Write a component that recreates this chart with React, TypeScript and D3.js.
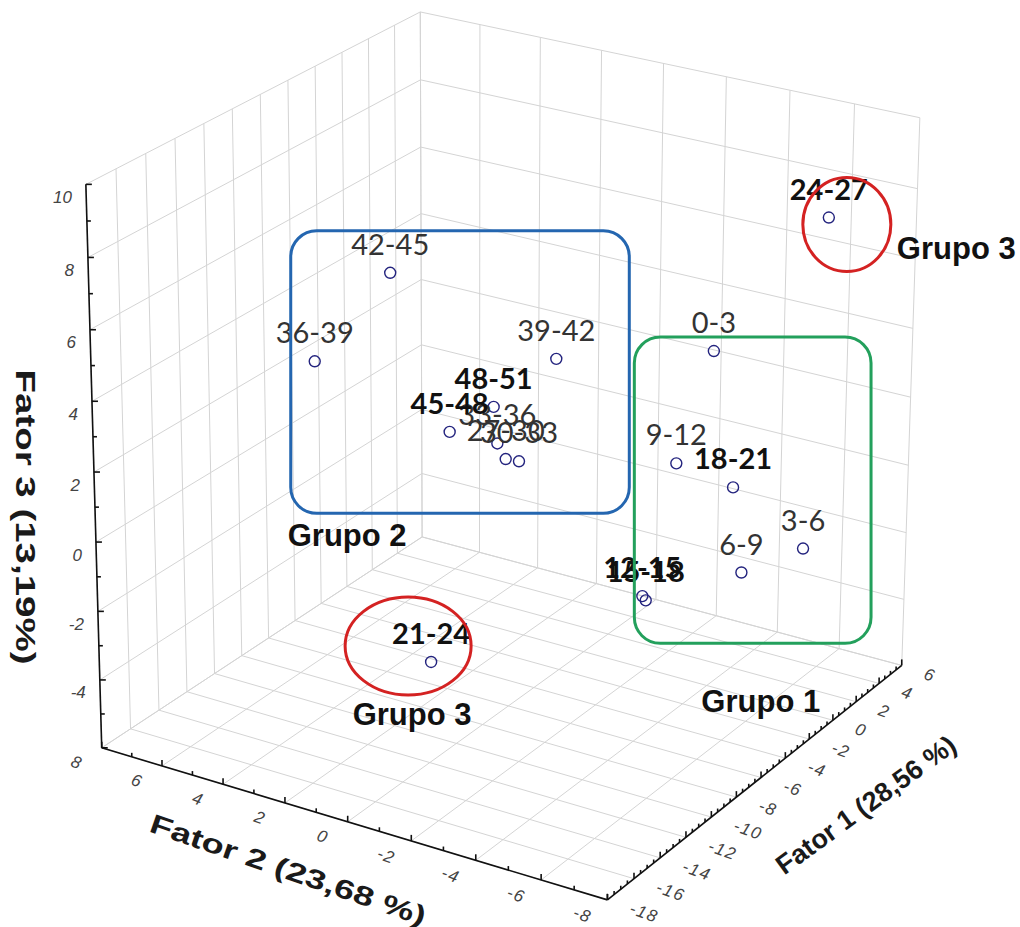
import { useMemo } from "react";
import * as d3 from "d3";

const W = 1020;
const H = 927;

// scores (Fator 1, Fator 2, Fator 3)
const labels = ["0-3", "3-6", "6-9", "9-12", "12-15", "15-18", "18-21", "21-24", "24-27", "27-30", "30-33", "33-36", "36-39", "39-42", "42-45", "45-48", "48-51"];
const fator1 = [4, 2, 0, 3, -2, -1, 1, -8, 2, -6, -5, -7, -8, -4, -9, -6, -7];
const fator2 = [-2.52, -6.21, -5.03, -1.76, -2.67, -2.39, -4.34, 1.67, -6.74, 0.11, 0.1, -0.04, 5.41, -0.66, 2.5, 1.91, 0.08];
const fator3 = [2.6, -1.88, -2.36, -0.66, -3.12, -3.58, -0.27, -4.57, 7.79, 1.25, 0.94, 1.98, 3.35, 3.83, 6.73, 1.62, 3.0];
const grupo = [1, 1, 1, 1, 1, 1, 1, 3, 3, 2, 2, 2, 2, 2, 2, 2, 2];
const boldLabels = ["12-15", "15-18", "18-21", "21-24", "24-27", "45-48", "48-51"];

const f1Ticks = d3.range(-18, 7, 2);
const f2Ticks = d3.range(8, -9, -2);
const f3Ticks = d3.range(-4, 11, 2);

// box corners in unit coords -> where they sit on screen
const corners: number[][] = [
  [0, 0, 0, 102, 748],
  [0, 1, 0, 607, 900],
  [1, 1, 0, 902, 665],
  [1, 0, 0, 422, 537],
  [0, 0, 1, 86, 184],
  [1, 0, 1, 420, 12],
  [1, 1, 1, 920, 118],
];

function fitCamera(pts: number[][]) {
  const rows: number[][] = [];
  const rhs: number[] = [];
  pts.forEach(([X, Y, Z, u, v]) => {
    rows.push([X, Y, Z, 1, 0, 0, 0, 0, -u * X, -u * Y, -u * Z]);
    rhs.push(u);
    rows.push([0, 0, 0, 0, X, Y, Z, 1, -v * X, -v * Y, -v * Z]);
    rhs.push(v);
  });
  const n = 11;
  const M = d3.range(n).map((i) =>
    d3.range(n + 1).map((j) =>
      j < n ? d3.sum(rows, (r) => r[i] * r[j]) : d3.sum(rows, (r, k) => r[i] * rhs[k])
    )
  );
  for (let c = 0; c < n; c++) {
    let piv = c;
    for (let r = c + 1; r < n; r++) if (Math.abs(M[r][c]) > Math.abs(M[piv][c])) piv = r;
    [M[c], M[piv]] = [M[piv], M[c]];
    for (let r = 0; r < n; r++) {
      if (r === c) continue;
      const f = M[r][c] / M[c][c];
      for (let k = c; k <= n; k++) M[r][k] -= f * M[c][k];
    }
  }
  return M.map((row, i) => row[n] / row[i]);
}

const sx = d3.scaleLinear().domain([-18, 6]).range([0, 1]);
const sy = d3.scaleLinear().domain([8, -8]).range([0, 1]);
const sz = d3.scaleLinear().domain([-6, 10]).range([0, 1]);

const grid = "#d4d4d4";
const tickFont = "'Liberation Sans', Arial, sans-serif";
const labelFont = "Lato, 'Open Sans', sans-serif";

export default function App() {
  const p = useMemo(() => fitCamera(corners), []);
  const proj = (f1: number, f2: number, f3: number): [number, number] => {
    const X = sx(f1), Y = sy(f2), Z = sz(f3);
    const w = p[8] * X + p[9] * Y + p[10] * Z + 1;
    return [(p[0] * X + p[1] * Y + p[2] * Z + p[3]) / w, (p[4] * X + p[5] * Y + p[6] * Z + p[7]) / w];
  };
  const line = (a: [number, number], b: [number, number]) => `M${a[0]},${a[1]}L${b[0]},${b[1]}`;

  const gridPaths: string[] = [];
  f1Ticks.forEach((v) => {
    gridPaths.push(line(proj(v, 8, -6), proj(v, -8, -6)));
    gridPaths.push(line(proj(v, 8, -6), proj(v, 8, 10)));
  });
  f2Ticks.forEach((v) => {
    gridPaths.push(line(proj(-18, v, -6), proj(6, v, -6)));
    gridPaths.push(line(proj(6, v, -6), proj(6, v, 10)));
  });
  d3.range(-6, 11, 2).forEach((v) => {
    gridPaths.push(line(proj(-18, 8, v), proj(6, 8, v)));
    gridPaths.push(line(proj(6, 8, v), proj(6, -8, v)));
  });

  const pts = labels.map((name, i) => {
    const [x, y] = proj(fator1[i], fator2[i], fator3[i]);
    return { name, x, y, g: grupo[i], bold: boldLabels.includes(name) };
  });

  const box = (g: number, pad: number[]) => {
    const sel = pts.filter((d) => d.g === g);
    const [x0, x1] = d3.extent(sel, (d) => d.x) as [number, number];
    const [y0, y1] = d3.extent(sel, (d) => d.y) as [number, number];
    return { x: x0 - pad[0], y: y0 - pad[1], w: x1 - x0 + pad[0] + pad[2], h: y1 - y0 + pad[1] + pad[3] };
  };
  const box2 = box(2, [24, 42, 73, 52]);
  const box1 = box(1, [8, 14, 68, 43]);
  const top3 = pts.find((d) => d.name === "24-27")!;
  const low3 = pts.find((d) => d.name === "21-24")!;

  const A = proj(-18, 8, -6);
  const B = proj(-18, -8, -6);
  const C = proj(6, -8, -6);
  const E = proj(-18, 8, 10);

  return (
    <svg width={W} height={H} style={{ position: "absolute", left: 0, top: 0, background: "#fff" }}>
      <g stroke={grid} strokeWidth={1} fill="none">
        {gridPaths.map((d, i) => (
          <path key={i} d={d} />
        ))}
      </g>

      {/* axes */}
      <g stroke="#111" strokeWidth={1.6} fill="none">
        <path d={line(A, E)} />
        <path d={line(A, B)} />
        <path d={line(B, C)} />
        {d3.range(-6, 10.1, 1).map((v) => {
          const [x, y] = proj(-18, 8, v);
          return <path key={"z" + v} d={`M${x},${y}h${v % 2 === 0 ? 6 : 4}`} />;
        })}
        {d3.range(8, -8.1, -1).map((v) => {
          const [x, y] = proj(-18, v, -6);
          return <path key={"y" + v} d={`M${x},${y}v${v % 2 === 0 ? -6 : -4}`} />;
        })}
        {d3.range(-18, 6.1, 0.5).map((v) => {
          const [x, y] = proj(v, -8, -6);
          return <path key={"x" + v} d={`M${x},${y}v${v % 2 === 0 ? -6 : -3.5}`} />;
        })}
      </g>

      <g fontFamily={tickFont} fontStyle="italic" fontSize={17} fill="#444">
        {f3Ticks.map((v) => {
          const [x, y] = proj(-18, 8, v);
          return (
            <text key={"zl" + v} x={x - 14} y={y + 13} textAnchor="end" dominantBaseline="central">
              {v}
            </text>
          );
        })}
        {f2Ticks.map((v) => {
          const [x, y] = proj(-18, v, -6);
          return (
            <text key={"yl" + v} transform={`translate(${x - 25},${y + 15}) rotate(20)`} textAnchor="middle" dominantBaseline="central" letterSpacing={1.5}>
              {v}
            </text>
          );
        })}
        {f1Ticks.map((v) => {
          const [x, y] = proj(v, -8, -6);
          return (
            <text key={"xl" + v} transform={`translate(${x + 23},${y + 8}) rotate(20)`} textAnchor="start" dominantBaseline="central" letterSpacing={1.5}>
              {v}
            </text>
          );
        })}
      </g>

      <g fontFamily={tickFont} fontWeight="bold" fontSize={27} fill="#1a1a1a">
        <text transform="translate(25,517) rotate(90)" textAnchor="middle" dominantBaseline="central" textLength={295} lengthAdjust="spacingAndGlyphs">
          Fator 3 (13,19%)
        </text>
        <text transform="translate(288,870) rotate(19)" textAnchor="middle" dominantBaseline="central" textLength={290} lengthAdjust="spacingAndGlyphs">
          Fator 2 (23,68 %)
        </text>
        <text transform="translate(866,805) rotate(-36)" textAnchor="middle" dominantBaseline="central" textLength={215} lengthAdjust="spacingAndGlyphs">
          Fator 1 (28,56 %)
        </text>
      </g>

      <g>
        {pts.map((d) => (
          <circle key={d.name} cx={d.x} cy={d.y} r={5.5} fill="none" stroke="#23237e" strokeWidth={1.4} />
        ))}
      </g>
      <g fontFamily={labelFont} fontSize={29} textAnchor="middle">
        {pts.map((d) => (
          <text key={d.name} x={d.x} y={d.y - 18} fill={d.bold ? "#111" : "#333"} fontWeight={d.bold ? "bold" : "normal"}>
            {d.name}
          </text>
        ))}
      </g>

      {/* group outlines */}
      <g fill="none" strokeWidth={3}>
        <rect x={box2.x} y={box2.y} width={box2.w} height={box2.h} rx={26} stroke="#2466b0" />
        <rect x={box1.x} y={box1.y} width={box1.w} height={box1.h} rx={26} stroke="#23a05c" />
        <ellipse cx={top3.x + 18} cy={top3.y + 7} rx={44} ry={47} stroke="#d42222" />
        <ellipse cx={low3.x - 23} cy={low3.y - 16} rx={63} ry={49} stroke="#d42222" />
      </g>
      <g fontFamily={tickFont} fontWeight="bold" fontSize={31} fill="#111">
        <text x={box2.x - 3} y={box2.y + box2.h + 33}>Grupo 2</text>
        <text x={box1.x + 67} y={box1.y + box1.h + 69}>Grupo 1</text>
        <text x={top3.x + 68} y={top3.y + 41}>Grupo 3</text>
        <text x={low3.x - 19} y={low3.y + 63} textAnchor="middle">Grupo 3</text>
      </g>
    </svg>
  );
}
